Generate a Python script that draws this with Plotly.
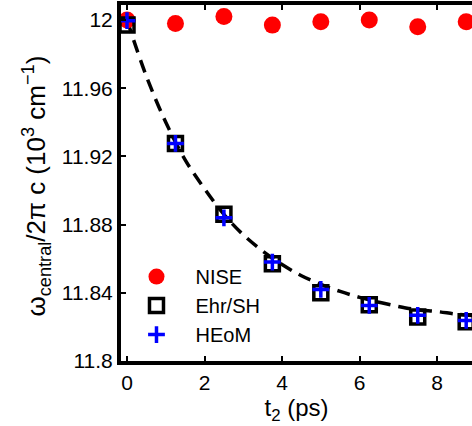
import plotly.graph_objects as go

t_points = [0, 1.25, 2.5, 3.75, 5, 6.25, 7.5, 8.75]
nise = [12.000, 11.998, 12.002, 11.997, 11.999, 12.000, 11.996, 11.999]
ehr_sh = [11.997, 11.9276, 11.886, 11.857, 11.840, 11.833, 11.8258, 11.823]
heom = [11.9996, 11.9276, 11.884, 11.858, 11.842, 11.8326, 11.8268, 11.8238]

t_fit = [0, 0.5, 1, 1.5, 2, 2.5, 3, 3.5, 4, 4.5, 5, 5.5, 6, 6.5, 7, 7.5, 8, 8.5, 9]
fit = [12.000, 11.967, 11.940, 11.918, 11.901, 11.886, 11.874, 11.8645, 11.8566,
       11.850, 11.845, 11.8408, 11.8373, 11.8345, 11.832, 11.830, 11.829, 11.8275, 11.8265]

x_ticks = [0, 2, 4, 6, 8]
y_ticks = [11.8, 11.84, 11.88, 11.92, 11.96, 12.0]
y_tick_labels = ["11.8", "11.84", "11.88", "11.92", "11.96", "12"]

FONT = "Liberation Sans, Arial, sans-serif"

fig = go.Figure()
fig.add_trace(go.Scatter(x=t_fit, y=fit, mode="lines", showlegend=False,
                         line=dict(color="black", width=3.5, dash="13px,8px"),
                         line_shape="spline"))
fig.add_trace(go.Scatter(x=t_points, y=nise, mode="markers", name="NISE",
                         marker=dict(symbol="circle", size=17, color="#ff0000")))
fig.add_trace(go.Scatter(x=t_points, y=ehr_sh, mode="markers", name="Ehr/SH",
                         marker=dict(symbol="square-open", size=14, color="black",
                                     line=dict(width=3.5, color="black"))))
fig.add_trace(go.Scatter(x=t_points, y=heom, mode="markers", name="HEoM",
                         marker=dict(symbol="cross-thin-open", size=12, color="#0000ff",
                                     line=dict(width=3.5, color="#0000ff"))))

fig.update_layout(
    width=472, height=426,
    margin=dict(l=121, r=0, t=5, b=65),
    paper_bgcolor="white", plot_bgcolor="white",
    font=dict(family=FONT, size=21, color="black"),
    legend=dict(x=-0.01, y=0.292, xanchor="left", yanchor="top",
                bgcolor="rgba(0,0,0,0)", font=dict(size=20),
                itemwidth=68),
    annotations=[dict(
        text="ω<sub>central</sub>/2π c (10<sup>3</sup> cm<sup>−1</sup>)",
        textangle=-90, xref="paper", yref="paper", x=-0.242, y=0.49,
        xanchor="center", yanchor="middle", showarrow=False,
        font=dict(size=26, family=FONT, color="black"),
    )],
)
fig.update_xaxes(
    range=[-0.155, 8.9], tickvals=x_ticks, ticks="inside", ticklen=5, tickwidth=2,
    tickcolor="black", showline=True, linewidth=4, linecolor="black", mirror="ticks",
    showgrid=False, zeroline=False, tickfont=dict(size=21),
    title=dict(text="t<sub>2</sub> (ps)", font=dict(size=24), standoff=2),
)
fig.update_yaxes(
    range=[11.8, 12.0088], tickvals=y_ticks, ticktext=y_tick_labels, ticks="inside",
    ticklen=5, tickwidth=2, tickcolor="black", showline=True, linewidth=4,
    linecolor="black", showgrid=False, zeroline=False, tickfont=dict(size=21),
)

fig.write_html("out.html")
